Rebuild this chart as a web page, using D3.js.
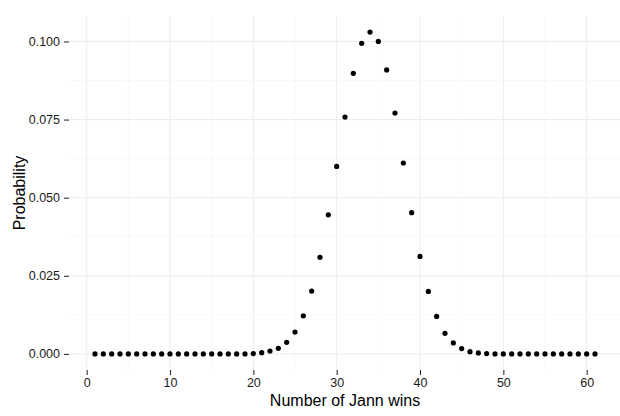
<!DOCTYPE html>
<html><head><meta charset="utf-8">
<script src="https://cdn.jsdelivr.net/npm/d3@7/dist/d3.min.js"></script>
<style>body{margin:0;background:#fff}svg{display:block}text{font-family:"Liberation Sans",Arial,sans-serif}</style>
</head><body><svg id="c" width="620" height="416"></svg>
<script>
const wins = d3.range(1, 62);
const probability = [
0,0,0,0,0,0,0,0,0,0,
0,0,0,0,0,0,0,0,0,0.0001,
0.0004,0.0009,0.0018,0.0037,0.0070,0.0122,0.0201,0.0309,0.0445,0.0600,
0.0758,0.0898,0.0994,0.1030,0.1000,0.0909,0.0771,0.0611,0.0452,0.0312,
0.0200,0.0120,0.0066,0.0035,0.0017,0.0007,0.0003,0.0001,0,0,
0,0,0,0,0,0,0,0,0,0,0
];
const xTicks = [0,10,20,30,40,50,60];
const yTicks = [0,0.025,0.05,0.075,0.1];
const xMinor = [5,15,25,35,45,55];
const yMinor = [0.0125,0.0375,0.0625,0.0875];

const svg = d3.select("#c");
const L = 70, R = 620, T = 16, B = 370;
const x = d3.scaleLinear().domain([-2, 64]).range([L, R]);
const y = d3.scaleLinear().domain([-0.00515, 0.10815]).range([B, T]);

const g = svg.append("g");
g.selectAll(".xm").data(xMinor).join("line")
  .attr("x1", d=>x(d)).attr("x2", d=>x(d)).attr("y1", T).attr("y2", B)
  .attr("stroke", "#f5f5f5").attr("stroke-width", 0.6);
g.selectAll(".ym").data(yMinor).join("line")
  .attr("y1", d=>y(d)).attr("y2", d=>y(d)).attr("x1", L).attr("x2", R)
  .attr("stroke", "#f5f5f5").attr("stroke-width", 0.6);
g.selectAll(".xg").data(xTicks).join("line")
  .attr("x1", d=>x(d)).attr("x2", d=>x(d)).attr("y1", T).attr("y2", B)
  .attr("stroke", "#ececec").attr("stroke-width", 1);
g.selectAll(".yg").data(yTicks).join("line")
  .attr("y1", d=>y(d)).attr("y2", d=>y(d)).attr("x1", L).attr("x2", R)
  .attr("stroke", "#ececec").attr("stroke-width", 1);

const xAxis = svg.append("g").attr("transform", `translate(0,${B})`)
  .call(d3.axisBottom(x).tickValues(xTicks).tickSize(5).tickPadding(3).tickFormat(d3.format("d")));
const yAxis = svg.append("g").attr("transform", `translate(${L-1},0)`)
  .call(d3.axisLeft(y).tickValues(yTicks).tickSize(5).tickPadding(4).tickFormat(d3.format(".3f")));
[xAxis, yAxis].forEach(a => {
  a.select(".domain").remove();
  a.selectAll(".tick line").attr("stroke", "#333").attr("stroke-width", 1.1);
  a.selectAll(".tick text").attr("fill", "#1a1a1a").style("font-size", "12.5px").style("font-family", '"Liberation Sans",Arial,sans-serif');
});

svg.append("g").selectAll("circle").data(wins).join("circle")
  .attr("cx", (d)=>x(d)).attr("cy", (d,i)=>y(probability[i])).attr("r", 2.6).attr("fill", "#000");

svg.append("text").attr("x", (L+R)/2).attr("y", 406).attr("text-anchor", "middle")
  .style("font-size", "16px").attr("fill", "#000").text("Number of Jann wins");
svg.append("text").attr("transform", `translate(24.5,${(T+B)/2}) rotate(-90)`).attr("text-anchor", "middle")
  .style("font-size", "16px").attr("fill", "#000").text("Probability");
</script></body></html>
